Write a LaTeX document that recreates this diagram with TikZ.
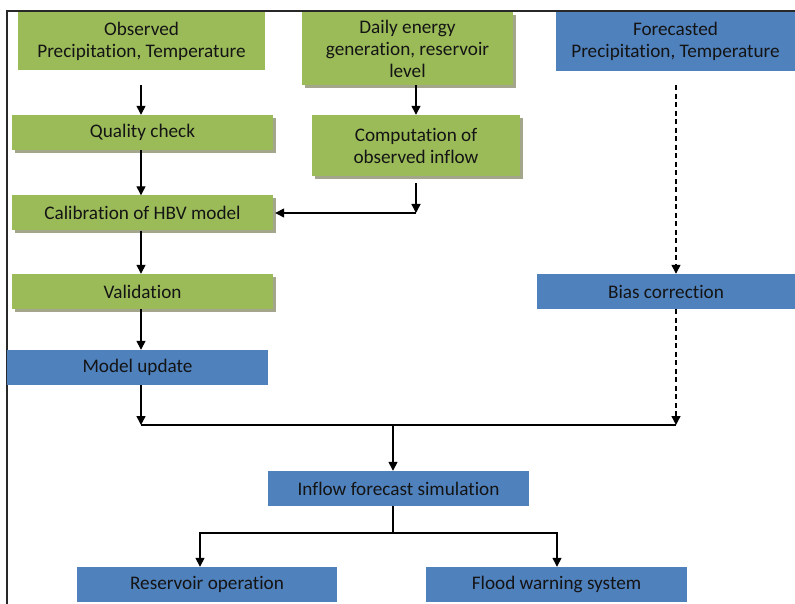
\documentclass[tikz,border=0pt]{standalone}
\usepackage{fontspec}
\setmainfont{Carlito}[Ligatures=NoCommon]
\usetikzlibrary{arrows.meta,shadows,calc}
\definecolor{gboxc}{RGB}{155,187,89}
\definecolor{bboxc}{RGB}{79,129,189}
\definecolor{shadc}{RGB}{163,166,138}
\definecolor{txtc}{RGB}{20,20,20}
\definecolor{framec}{RGB}{40,40,40}
\begin{document}
\begin{tikzpicture}[x=1pt,y=-1pt,
  every node/.style={font=\fontsize{19.2}{22}\selectfont, text=txtc, align=center, inner sep=0pt},
  gbox/.style={fill=gboxc, draw=none},
  sgbox/.style={gbox, drop shadow={shadow xshift=3pt, shadow yshift=-3pt, fill=shadc, opacity=1}},
  bbox/.style={fill=bboxc, draw=none},
  ln/.style={draw=black, line width=1.4pt},
  arr/.style={ln, -{Triangle[width=9pt,length=9pt]}},
  darr/.style={arr, dash pattern=on 5pt off 3.5pt},
  framel/.style={draw=framec, line width=1.6pt}]
\useasboundingbox (0,0) rectangle (795,604);
\draw[framel] (7,604) -- (7,11) -- (795,11);

\node[gbox, minimum width=247pt, minimum height=58pt] (obs) at (141.5,41) {Observed\\Precipitation, Temperature};
\node[sgbox, minimum width=211pt, minimum height=73pt] (daily) at (407.5,48.5) {Daily energy\\generation, reservoir\\level};
\node[bbox, minimum width=239pt, minimum height=59pt] (fc) at (675.5,41.5) {Forecasted\\Precipitation, Temperature};
\node[sgbox, minimum width=261pt, minimum height=35pt] (qc) at (142.5,132.5) {Quality check};
\node[sgbox, minimum width=208pt, minimum height=61pt] (comp) at (416,145.5) {Computation of\\observed inflow};
\node[sgbox, minimum width=261pt, minimum height=35pt] (cal) at (142.5,213) {Calibration of HBV model};
\node[sgbox, minimum width=261pt, minimum height=35pt] (val) at (142.5,291.5) {Validation};
\node[bbox, minimum width=261pt, minimum height=35pt] (mu) at (137.5,367.5) {Model update};
\node[bbox, minimum width=258pt, minimum height=35pt] (bias) at (666,291.5) {Bias correction};
\node[bbox, minimum width=261pt, minimum height=35pt] (inflow) at (398.5,488.5) {Inflow forecast simulation};
\node[bbox, minimum width=260pt, minimum height=35pt] (ro) at (207,584.5) {Reservoir operation};
\node[bbox, minimum width=261pt, minimum height=35pt] (fw) at (556.5,584.5) {Flood warning system};

\coordinate (j1) at (141,425);
\coordinate (j2) at (676,425);
\coordinate (jm) at (393,425);
\coordinate (c1) at (416,213);
\coordinate (s) at (393,533);
\coordinate (sL) at (200,533);
\coordinate (sR) at (557,533);

\draw[arr] ([yshift=-15pt]obs.south -| j1) -- (qc.north -| j1);
\draw[arr] (qc.south -| j1) -- (cal.north -| j1);
\draw[arr] (cal.south -| j1) -- (val.north -| j1);
\draw[arr] (val.south -| j1) -- (mu.north -| j1);
\draw[arr] (mu.south -| j1) -- (j1);

\draw[arr] (daily.south -| c1) -- (comp.north -| c1);
\draw[arr] ([yshift=-7pt]comp.south -| c1) -- (c1);
\draw[arr] (c1) -- ([xshift=2pt]cal.east |- c1);

\draw[darr] ([yshift=-14pt]fc.south -| j2) -- (bias.north -| j2);
\draw[darr] (bias.south -| j2) -- (j2);

\draw[ln] (j1) -- (j2);
\draw[arr] (jm) -- (inflow.north -| jm);
\draw[ln] (inflow.south -| s) -- (s);
\draw[arr] (s) -- (sL) -- (sL |- ro.north);
\draw[arr] (s) -- (sR) -- (sR |- fw.north);
\end{tikzpicture}
\end{document}
